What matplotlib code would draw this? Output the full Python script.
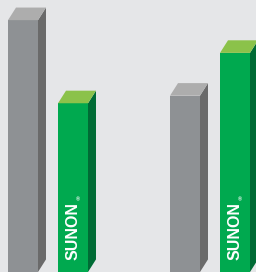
import matplotlib.pyplot as plt

# two comparison groups: competitor (gray) vs SUNON (green)
groups = ['A', 'B']
other_vals = [100, 70]
sunon_vals = [67, 87]
brand = 'SUNON'

BG = '#e5e6e8'
GRAY = {'front': '#8e9194', 'side': '#6a6a6a', 'top': '#adadad'}
GREEN = {'front': '#00a94f', 'side': '#006b35', 'top': '#8bc24a'}

group_centers = [48, 210]
offset = 25
width = 30
dx, dy = 8, 5  # depth of the fake 3d extrusion


def bar3d(ax, xc, h, colors):
    x0 = xc - width / 2
    x1 = xc + width / 2
    ax.bar(xc, h, width=width, color=colors['front'], linewidth=0, zorder=2)
    ax.fill([x1, x1 + dx, x1 + dx, x1], [0, dy, h + dy, h],
            color=colors['side'], linewidth=0, zorder=2)
    ax.fill([x0, x1, x1 + dx, x0 + dx], [h, h, h + dy, h + dy],
            color=colors['top'], linewidth=0, zorder=2)


fig = plt.figure(figsize=(2.56, 2.72), dpi=100, facecolor=BG)
ax = fig.add_axes([0, 0, 1, 1], facecolor=BG)

for i, g in enumerate(groups):
    c = group_centers[i]
    bar3d(ax, c - offset, other_vals[i], GRAY)
    bar3d(ax, c + offset, sunon_vals[i], GREEN)
    ax.text(c + offset, 4.6, brand, rotation=90, ha='center', va='bottom',
            color='white', fontsize=11.5, fontweight='bold',
            family=['Liberation Sans', 'DejaVu Sans'], zorder=3)
    ax.text(c + offset + 4.5, 28.6, '®', ha='center', va='center',
            color='white', fontsize=4, fontweight='bold',
            family=['Liberation Sans', 'DejaVu Sans'], zorder=3)

ax.set_xlim(0, 256)
ax.set_ylim(0, 108)
ax.axis('off')

plt.savefig('out.png', dpi=100, facecolor=BG)
plt.close()
